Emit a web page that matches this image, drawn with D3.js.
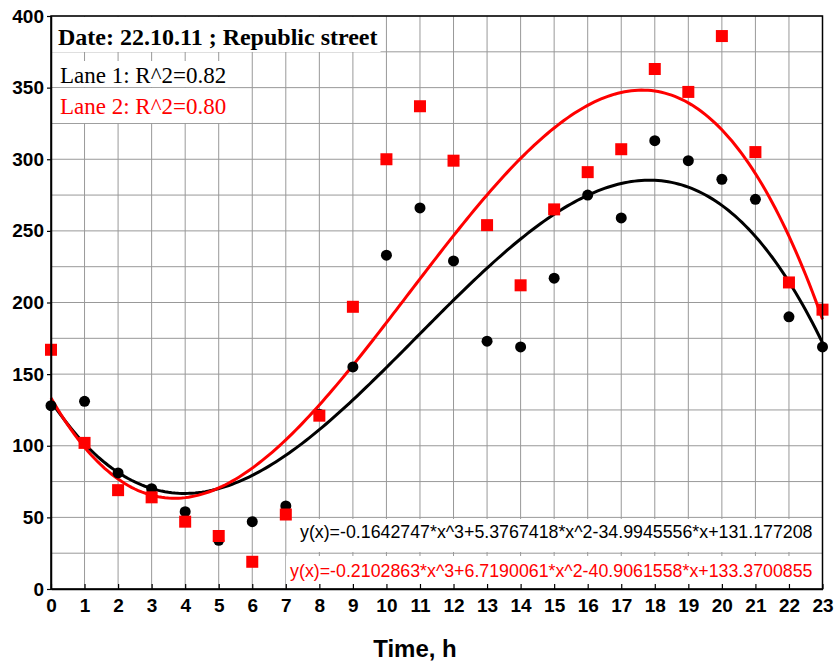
<!DOCTYPE html>
<html>
<head>
<meta charset="utf-8">
<script src="https://cdn.jsdelivr.net/npm/d3@7"></script>
<style>
  body { margin: 0; background: #fff; }
</style>
</head>
<body>
<div id="chart"></div>
<script>
// Hours of the day (x axis)
const hours = d3.range(0, 24);

// Lane 1 (black circles), vehicles per hour
const lane1 = [128, 131, 81, 70, 54, 34, 47, 58, 122, 155, 233, 266,
               229, 173, 169, 217, 275, 259, 313, 299, 286, 272, 190, 169];

// Lane 2 (red squares)
const lane2 = [167, 102, 69, 64, 47, 37, 19, 52, 121, 197, 300, 337,
               299, 254, 212, 265, 291, 307, 363, 347, 386, 305, 214, 195];

// Cubic trend coefficients as printed on the chart (x^3, x^2, x, 1)
const fit1 = [-0.1642747, 5.3767418, -34.9945556, 131.177208];
const fit2 = [-0.2102863, 6.7190061, -40.9061558, 133.3700855];

const yTicks = d3.range(0, 401, 50);
const yGrid = d3.range(0, 401, 25);

const title = "Date: 22.10.11 ; Republic street";
const legend1 = "Lane 1: R^2=0.82";
const legend2 = "Lane 2: R^2=0.80";
const eq1 = "y(x)=-0.1642747*x^3+5.3767418*x^2-34.9945556*x+131.177208";
const eq2 = "y(x)=-0.2102863*x^3+6.7190061*x^2-40.9061558*x+133.3700855";

const W = 838, H = 661;
const margin = { top: 16, right: 15.5, bottom: 72, left: 51 };
const width = W - margin.left - margin.right;
const height = H - margin.top - margin.bottom;

const svg = d3.select("#chart").append("svg")
    .attr("width", W)
    .attr("height", H);

const g = svg.append("g")
    .attr("transform", `translate(${margin.left},${margin.top})`);

const x = d3.scaleLinear().domain([0, 23]).range([0, width]);
const y = d3.scaleLinear().domain([0, 400]).range([height, 0]);

// Grid
g.append("g").selectAll("line.v")
    .data(hours)
    .join("line")
    .attr("x1", d => x(d)).attr("x2", d => x(d))
    .attr("y1", 0).attr("y2", height)
    .attr("stroke", "#999").attr("stroke-width", 1);
g.append("g").selectAll("line.h")
    .data(yGrid)
    .join("line")
    .attr("x1", 0).attr("x2", width)
    .attr("y1", d => y(d)).attr("y2", d => y(d))
    .attr("stroke", "#999").attr("stroke-width", 1);

// Boxed text with white background
function boxText(px, py, txt, opts) {
    const t = g.append("text")
        .attr("x", px).attr("y", py)
        .attr("text-anchor", opts.anchor || "start")
        .style("font-family", opts.family)
        .style("font-size", opts.size + "px")
        .style("font-weight", opts.weight || "normal")
        .attr("fill", opts.color || "#000")
        .text(txt);
    const bb = t.node().getBBox();
    const r = opts.rect;
    const x0 = r.x0 != null ? r.x0 : bb.x - r.padX;
    const x1 = r.x1 != null ? r.x1 : bb.x + bb.width + r.padX;
    g.insert("rect", () => t.node())
        .attr("x", x0)
        .attr("y", r.y0)
        .attr("width", x1 - x0)
        .attr("height", r.y1 - r.y0)
        .attr("fill", "#fff");
    return t;
}

// Trend curves
const samples = d3.range(0, 23.001, 0.1);
const poly = c => t => ((c[0] * t + c[1]) * t + c[2]) * t + c[3];
const line = d3.line().x(d => x(d[0])).y(d => y(d[1]));

const serif = "'Liberation Serif', 'Times New Roman', serif";
const sans = "'Liberation Sans', Arial, sans-serif";

// Title and legend
boxText(7, 29, title, { family: serif, size: 24, weight: "bold",
    rect: { x0: 0, y0: 1, y1: 36, padX: 3 } });
boxText(9, 67, legend1, { family: serif, size: 23,
    rect: { y0: 45, y1: 71, padX: 2 } });
boxText(9, 98, legend2, { family: serif, size: 23, color: "#ff0000",
    rect: { x0: 0, y0: 72, y1: 107, padX: 2 } });

// Equations
boxText(width - 10, 522, eq1, { family: sans, size: 17.8, anchor: "end",
    rect: { y0: 503, y1: 536, x1: width, padX: 4 } });
boxText(width - 10, 561, eq2, { family: sans, size: 17.8, anchor: "end", color: "#ff0000",
    rect: { y0: 540, y1: height - 1, x1: width, padX: 4 } });

g.append("path")
    .datum(samples.map(t => [t, poly(fit1)(t)]))
    .attr("d", line)
    .attr("fill", "none").attr("stroke", "#000").attr("stroke-width", 3);
g.append("path")
    .datum(samples.map(t => [t, poly(fit2)(t)]))
    .attr("d", line)
    .attr("fill", "none").attr("stroke", "#ff0000").attr("stroke-width", 3);

// Points
g.append("g").selectAll("circle")
    .data(hours)
    .join("circle")
    .attr("cx", d => x(d))
    .attr("cy", d => y(lane1[d]))
    .attr("r", 5.5)
    .attr("fill", "#000");
g.append("g").selectAll("rect")
    .data(hours)
    .join("rect")
    .attr("x", d => x(d) - 6)
    .attr("y", d => y(lane2[d]) - 6)
    .attr("width", 12).attr("height", 12)
    .attr("fill", "#ff0000");

// Frame
g.append("rect")
    .attr("width", width).attr("height", height)
    .attr("fill", "none").attr("stroke", "#000").attr("stroke-width", 1.5);

// Axes
const xAxis = g.append("g")
    .attr("transform", `translate(0,${height})`)
    .call(d3.axisBottom(x).tickValues(hours).tickFormat(d3.format("d")).tickSizeInner(-5).tickSizeOuter(0).tickPadding(10));
const yAxis = g.append("g")
    .call(d3.axisLeft(y).tickValues(yTicks).tickSizeInner(4).tickSizeOuter(0).tickPadding(3));

[xAxis, yAxis].forEach(a => {
    a.select(".domain").attr("stroke", "#000").attr("stroke-width", 1.5);
    a.selectAll(".tick line").attr("stroke", "#000").attr("stroke-width", 1.2);
    a.selectAll(".tick text")
        .style("font-family", sans)
        .style("font-size", "19px")
        .style("font-weight", "bold")
        .attr("fill", "#000");
});

// Axis title
svg.append("text")
    .attr("x", 415)
    .attr("y", 657)
    .attr("text-anchor", "middle")
    .style("font-family", sans)
    .style("font-size", "24px")
    .style("font-weight", "bold")
    .text("Time, h");
</script>
</body>
</html>
